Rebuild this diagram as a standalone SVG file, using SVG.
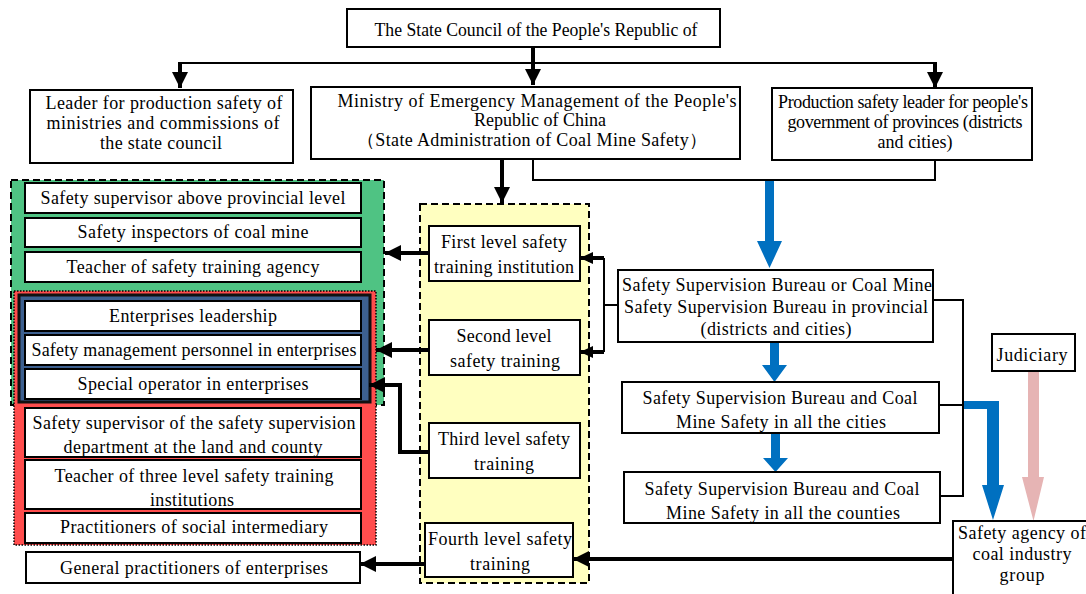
<svg xmlns="http://www.w3.org/2000/svg" width="1086" height="594" viewBox="0 0 1086 594" font-family="'Liberation Serif', 'DejaVu Serif', serif">
<style>
text{font-family:'Liberation Serif','DejaVu Serif',serif;font-size:18px;fill:#000;text-anchor:middle}
.box{fill:#fff;stroke:#000;stroke-width:2}
.ln{fill:none;stroke:#000;stroke-width:2}
.thk{fill:none;stroke:#000;stroke-width:4}
</style>
<defs>
<marker id="ah" markerUnits="userSpaceOnUse" markerWidth="18" markerHeight="18" viewBox="0 0 18 18" refX="16" refY="9" orient="auto">
<path d="M0,1 L16,9 L0,17 Z" fill="#000"/>
</marker>
<marker id="ahs" markerUnits="userSpaceOnUse" markerWidth="14" markerHeight="14" viewBox="0 0 14 14" refX="13" refY="7" orient="auto">
<path d="M0,1 L13,7 L0,13 Z" fill="#000"/>
</marker>
</defs>

<g id="group-green">
<rect x="11" y="180" width="373" height="225" fill="#4fc383" stroke="#000" stroke-width="2" stroke-dasharray="7,4"/>
</g>
<g id="group-red">
<rect x="14" y="291" width="362" height="254" fill="#ff4d4d" stroke="#000" stroke-width="1.5" stroke-dasharray="1.5,1.5"/>
</g>
<g id="group-blue">
<rect x="19" y="295" width="351" height="107" fill="#3d6090" stroke="#111" stroke-width="3"/>
</g>
<g id="group-yellow">
<rect x="420" y="204" width="169" height="379" fill="#ffffc0" stroke="#000" stroke-width="2" stroke-dasharray="7,4"/>
</g>

<g id="connectors">
<path class="thk" d="M533,47 V85" marker-end="url(#ah)"/>
<path class="ln" d="M180,63 H935" stroke-width="3"/>
<path class="thk" d="M180,62 V88" marker-end="url(#ah)"/>
<path class="thk" d="M935,62 V88" marker-end="url(#ah)"/>
<path class="ln" d="M533,159 V180 H935 V160"/>
<path class="thk" d="M502,159 V203" marker-end="url(#ah)"/>
<path fill="#0070c0" d="M765,181 H774 V241 H782 L769.5,268 L757,241 H765 Z"/>
<path fill="#0070c0" d="M770,342 H779 V365 H787 L774.5,382 L762,365 H770 Z"/>
<path fill="#0070c0" d="M771,433 H780 V458 H788 L775.5,472 L763,458 H771 Z"/>
<path fill="#0070c0" d="M964,401 H999 V485 H1004 L993,520 L982,485 H987 V409 H964 Z"/>
<path fill="#e6b4b4" d="M1028,371 H1039 V477 H1044 L1033.5,521 L1022,477 H1028 Z"/>
<path class="ln" d="M933,300 H963 V496 H940"/>
<path class="ln" d="M939,405 H963"/>
<path class="ln" d="M618,305 H604"/>
<path class="ln" d="M604,258 V352"/>
<path class="thk" d="M604,258 H580" stroke-width="3" marker-end="url(#ahs)"/>
<path class="thk" d="M604,352 H580" stroke-width="3" marker-end="url(#ahs)"/>
<path class="thk" d="M429,253 H385" marker-end="url(#ah)"/>
<path class="thk" d="M429,350 H376" marker-end="url(#ah)"/>
<path class="thk" d="M429,452 H400 V385 H369" marker-end="url(#ah)"/>
<path class="thk" d="M953,559 H573" marker-end="url(#ah)"/>
<path class="thk" d="M425,564 H360" marker-end="url(#ah)"/>
</g>

<g id="n-state-council">
<rect class="box" x="347" y="9" width="373" height="38"/>
<text x="536" y="36" textLength="323" lengthAdjust="spacingAndGlyphs">The State Council of the People's Republic of</text>
</g>
<g id="n-leader">
<rect class="box" x="30" y="90" width="263" height="73"/>
<text x="164" y="109" textLength="237">Leader for production safety of</text>
<text x="163" y="129" textLength="233">ministries and commissions of</text>
<text x="161" y="149" textLength="122">the state council</text>
</g>
<g id="n-ministry">
<rect class="box" x="311" y="87" width="429" height="72"/>
<text x="537" y="107" textLength="399">Ministry of Emergency Management of the People's</text>
<text x="540" y="126">Republic of China</text>
<text x="532" y="146" textLength="350">（State Administration of Coal Mine Safety）</text>
</g>
<g id="n-provinces-leader">
<rect class="box" x="772" y="88" width="260" height="72"/>
<text x="903" y="108" textLength="250">Production safety leader for people's</text>
<text x="905" y="128" textLength="235">government of provinces (districts</text>
<text x="915" y="148" textLength="75">and cities)</text>
</g>

<g id="n-supervisor-provincial">
<rect class="box" x="25" y="183" width="336" height="30"/>
<text x="193" y="204" textLength="305">Safety supervisor above provincial level</text>
</g>
<g id="n-inspectors">
<rect class="box" x="25" y="218" width="336" height="29"/>
<text x="193" y="238" textLength="231">Safety inspectors of coal mine</text>
</g>
<g id="n-teacher-agency">
<rect class="box" x="25" y="252" width="336" height="30"/>
<text x="193" y="273" textLength="253">Teacher of safety training agency</text>
</g>
<g id="n-enterprise-leadership">
<rect class="box" x="25" y="301" width="336" height="30"/>
<text x="193" y="322" textLength="168">Enterprises leadership</text>
</g>
<g id="n-management-personnel">
<rect class="box" x="25" y="335" width="336" height="30"/>
<text x="194" y="356" textLength="325">Safety management personnel in enterprises</text>
</g>
<g id="n-special-operator">
<rect class="box" x="25" y="369" width="336" height="30"/>
<text x="193" y="390" textLength="231">Special operator in enterprises</text>
</g>
<g id="n-supervisor-county">
<rect class="box" x="25" y="408" width="336" height="49"/>
<text x="194" y="429" textLength="323">Safety supervisor of the safety supervision</text>
<text x="193" y="453" textLength="259">department at the land and county</text>
</g>
<g id="n-teacher-three-level">
<rect class="box" x="25" y="460" width="336" height="49"/>
<text x="194" y="482" textLength="279">Teacher of three level safety training</text>
<text x="192" y="506" textLength="84">institutions</text>
</g>
<g id="n-intermediary">
<rect class="box" x="25" y="513" width="336" height="30"/>
<text x="194" y="533" textLength="268">Practitioners of social intermediary</text>
</g>
<g id="n-general-practitioners">
<rect class="box" x="26" y="552" width="334" height="31"/>
<text x="194" y="574" textLength="268">General practitioners of enterprises</text>
</g>

<g id="n-first-level">
<rect class="box" x="429" y="226" width="151" height="55"/>
<text x="504" y="248" textLength="126">First level safety</text>
<text x="504" y="273" textLength="140">training institution</text>
</g>
<g id="n-second-level">
<rect class="box" x="429" y="320" width="151" height="55"/>
<text x="504" y="342" textLength="95">Second level</text>
<text x="505" y="367" textLength="110">safety training</text>
</g>
<g id="n-third-level">
<rect class="box" x="429" y="423" width="151" height="55"/>
<text x="504" y="445" textLength="132">Third level safety</text>
<text x="504" y="470" textLength="60">training</text>
</g>
<g id="n-fourth-level">
<rect class="box" x="425" y="523" width="148" height="54"/>
<text x="500" y="545" textLength="144">Fourth level safety</text>
<text x="500" y="570" textLength="60">training</text>
</g>

<g id="n-bureau-provincial">
<rect class="box" x="618" y="270" width="315" height="72"/>
<text x="777" y="291" textLength="310">Safety Supervision Bureau or Coal Mine</text>
<text x="776" y="313" textLength="304">Safety Supervision Bureau in provincial</text>
<text x="776" y="335" textLength="151">(districts and cities)</text>
</g>
<g id="n-bureau-cities">
<rect class="box" x="622" y="382" width="317" height="51"/>
<text x="780" y="404" textLength="275">Safety Supervision Bureau and Coal</text>
<text x="781" y="428" textLength="210">Mine Safety in all the cities</text>
</g>
<g id="n-bureau-counties">
<rect class="box" x="624" y="472" width="316" height="51"/>
<text x="782" y="495" textLength="275">Safety Supervision Bureau and Coal</text>
<text x="783" y="519" textLength="234">Mine Safety in all the counties</text>
</g>
<g id="n-judiciary">
<rect class="box" x="992" y="334" width="83" height="37"/>
<text x="1032" y="361" textLength="71">Judiciary</text>
</g>
<g id="n-coal-agency">
<rect class="box" x="953" y="521" width="140" height="80"/>
<text x="1022" y="539" textLength="128">Safety agency of</text>
<text x="1022" y="560" textLength="99">coal industry</text>
<text x="1022" y="581" textLength="45">group</text>
</g>
</svg>
